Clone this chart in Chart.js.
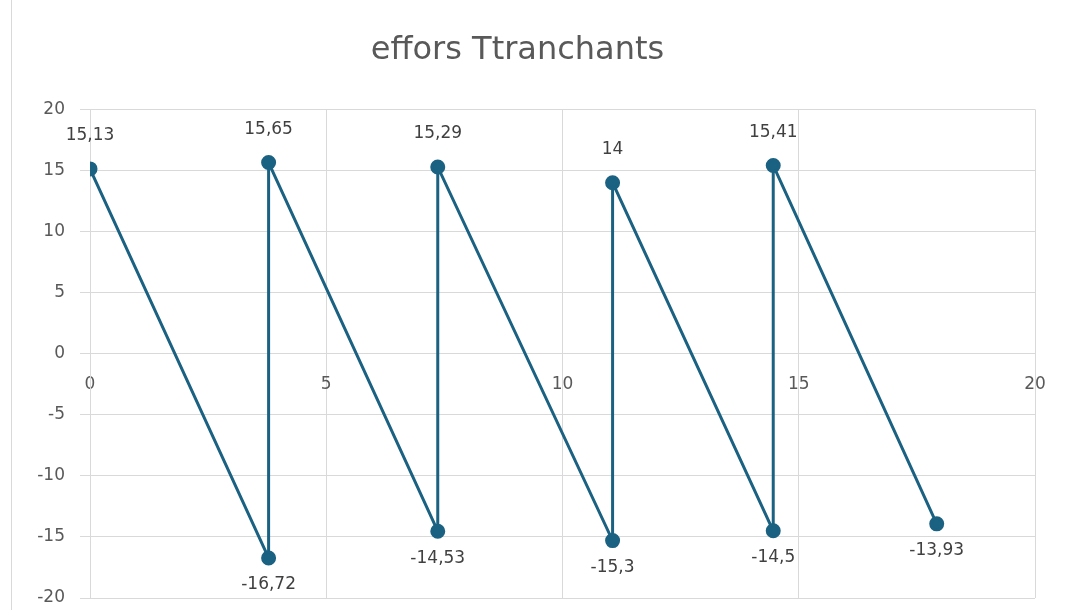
<!DOCTYPE html>
<html>
<head>
<meta charset="utf-8">
<script src="https://cdn.jsdelivr.net/npm/chart.js@4/dist/chart.umd.min.js"></script>
<style>
  html, body { margin: 0; padding: 0; background: #fff; }
  #wrap { position: relative; width: 1073px; height: 610px; }
  #edge { position: absolute; left: 11px; top: 0; width: 1px; height: 610px; background: #d9d9d9; }
</style>
</head>
<body>
<div id="wrap">
  <canvas id="effortChart" width="1073" height="610"></canvas>
  <div id="edge"></div>
</div>
<script>
// positions along the beam and shear values
const xValues = [0, 3.78, 3.78, 7.36, 7.36, 11.06, 11.06, 14.46, 14.46, 17.92];
const yValues = [15.13, -16.72, 15.65, -14.53, 15.29, -15.3, 14, -14.5, 15.41, -13.93];
const xTicks = [0, 5, 10, 15, 20];
const yTicks = [-20, -15, -10, -5, 0, 5, 10, 15, 20];

const lineColor = '#1a6182';
const textColor = '#595959';
const gridColor = '#d9d9d9';
const tickfont = { family: "'DejaVu Sans', sans-serif", size: 17 };

const points = xValues.map((x, i) => ({ x: x, y: yValues[i] }));

const valueLabels = {
  id: 'valueLabels',
  afterDatasetsDraw(chart) {
    const c = chart.ctx;
    const meta = chart.getDatasetMeta(0);
    c.save();
    c.font = "17px 'DejaVu Sans', sans-serif";
    c.fillStyle = '#404040';
    c.textAlign = 'center';
    c.textBaseline = 'middle';
    meta.data.forEach((pt, i) => {
      const v = yValues[i];
      const txt = String(v).replace('.', ',');
      const dy = v > 0 ? -33 : 27;
      c.fillText(txt, pt.x, pt.y + dy);
    });
    c.restore();
  }
};

new Chart(document.getElementById('effortChart'), {
  type: 'scatter',
  data: {
    datasets: [{
      data: points,
      showLine: true,
      borderColor: lineColor,
      backgroundColor: lineColor,
      borderWidth: 3,
      pointRadius: 6,
      pointHoverRadius: 6,
      tension: 0
    }]
  },
  options: {
    responsive: false,
    animation: false,
    layout: {
      padding: { left: 0, right: 38, top: 0, bottom: 12 }
    },
    plugins: {
      legend: { display: false },
      tooltip: { enabled: false },
      title: {
        display: true,
        text: 'effors Ttranchants',
        color: textColor,
        font: { family: "'DejaVu Sans', sans-serif", size: 32, weight: 'normal' },
        padding: { top: 31, bottom: 40 }
      }
    },
    scales: {
      x: {
        type: 'linear',
        min: 0,
        max: 20,
        position: { y: 0 },
        afterBuildTicks: (scale) => { scale.ticks = xTicks.map(v => ({ value: v })); },
        grid: { color: gridColor, tickLength: 8 },
        border: { color: gridColor },
        ticks: { color: textColor, font: tickfont, padding: 13, maxRotation: 0 }
      },
      y: {
        type: 'linear',
        min: -20,
        max: 20,
        afterBuildTicks: (scale) => { scale.ticks = yTicks.map(v => ({ value: v })); },
        afterFit: (scale) => {
          scale.width = 90;
          scale.paddingTop = 0;
          scale.paddingBottom = 0;
        },
        grid: { color: gridColor, tickLength: 10 },
        border: { color: gridColor },
        ticks: { color: textColor, font: tickfont, padding: 15 }
      }
    }
  },
  plugins: [valueLabels]
});
</script>
</body>
</html>
